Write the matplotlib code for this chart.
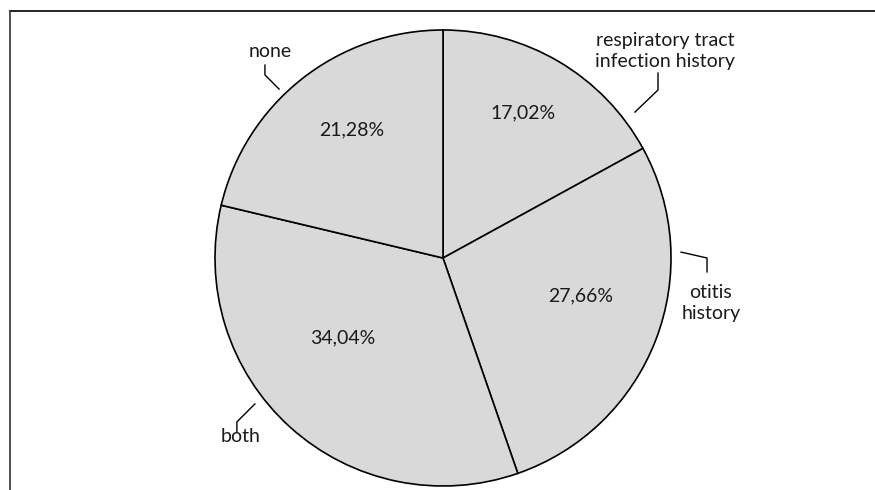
import numpy as np
import matplotlib.pyplot as plt
from matplotlib.lines import Line2D

categories = ['respiratory tract\ninfection history', 'otitis\nhistory', 'both', 'none']
shares = [17.02, 27.66, 34.04, 21.28]
pct_labels = ['17,02%', '27,66%', '34,04%', '21,28%']

# label / percentage placement, in pie-radius units
pct_pos = [(0.351, 0.636), (0.605, -0.167), (-0.439, -0.351), (-0.399, 0.561)]
label_pos = [(0.974, 0.908), (1.175, -0.197), (-0.886, -0.785), (-0.759, 0.904)]
leaders = [
    [(0.943, 0.811), (0.943, 0.737), (0.842, 0.640)],
    [(1.044, 0.026), (1.158, 0.0), (1.158, -0.061)],
    [(-0.825, -0.640), (-0.904, -0.719), (-0.904, -0.763)],
    [(-0.781, 0.846), (-0.781, 0.803), (-0.719, 0.741)],
]

plt.rcParams['font.family'] = ['Lato', 'DejaVu Sans']

fig = plt.figure(figsize=(8.75, 4.9), dpi=100)
ax = fig.add_axes([215 / 875, 4 / 490, 456 / 875, 456 / 490])

ax.pie(shares, startangle=90, counterclock=False, colors=['#d9d9d9'] * 4,
       wedgeprops=dict(edgecolor='black', linewidth=1.2))
ax.set_xlim(-1, 1)
ax.set_ylim(-1, 1)
ax.set_aspect('equal')
ax.axis('off')

for txt, (x, y) in zip(pct_labels, pct_pos):
    ax.text(x, y, txt, ha='center', va='center', fontsize=14, color='#1a1a1a')

for txt, (x, y) in zip(categories, label_pos):
    ax.text(x, y, txt, ha='center', va='center', fontsize=14, color='#1a1a1a',
            linespacing=1.3, clip_on=False)

for pts in leaders:
    xs, ys = zip(*pts)
    ax.plot(xs, ys, color='black', linewidth=1.0, clip_on=False)

# outer frame: top and left only
fig.add_artist(Line2D([10 / 875, 1.0], [1 - 11 / 490, 1 - 11 / 490],
                      transform=fig.transFigure, color='black', linewidth=1.2))
fig.add_artist(Line2D([10 / 875, 10 / 875], [0, 1 - 11 / 490],
                      transform=fig.transFigure, color='#333333', linewidth=1.2))

fig.savefig('out.png', dpi=100)
